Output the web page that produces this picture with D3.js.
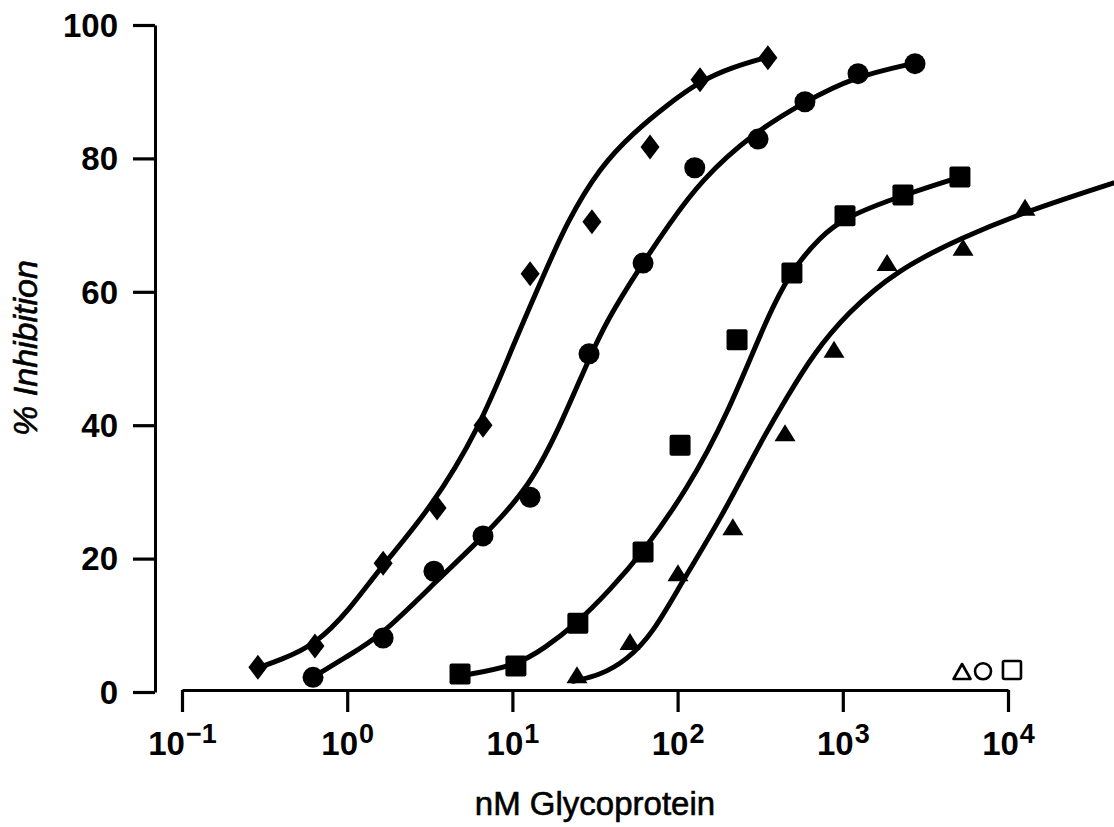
<!DOCTYPE html>
<html>
<head>
<meta charset="utf-8">
<script src="https://cdn.jsdelivr.net/npm/d3@7"></script>
<style>
  html, body { margin: 0; padding: 0; background: #fff; }
  svg { display: block; }
</style>
</head>
<body>
<svg id="chart" width="1114" height="827"></svg>
<script>
// ---------- DATA ----------
const xTicks = [0.1, 1, 10, 100, 1000, 10000];
const xTickExponents = ["\u22121", "0", "1", "2", "3", "4"];
const yTicks = [0, 20, 40, 60, 80, 100];

const xTitle = "nM Glycoprotein";
const yTitle = "% Inhibition";

// filled diamonds
const diamondX = [0.288, 0.638, 1.65, 3.50, 6.64, 12.8, 30.3, 68.1, 136.7, 352];
const diamondY = [3.7, 6.9, 19.3, 27.6, 40.0, 62.7, 70.5, 81.7, 91.8, 95.1];
// filled circles
const circleX = [0.621, 1.65, 3.35, 6.64, 12.8, 29.1, 61.8, 127, 307, 590, 1236, 2735];
const circleY = [2.2, 8.1, 18.1, 23.4, 29.2, 50.7, 64.3, 78.6, 82.9, 88.5, 92.7, 94.2];
// filled squares
const squareX = [4.82, 10.5, 24.9, 61.8, 103.5, 229, 492, 1031, 2312, 5117];
const squareY = [2.7, 3.9, 10.3, 21.0, 37.0, 52.8, 62.8, 71.4, 74.5, 77.2];
// filled triangles
const triangleX = [24.6, 51.5, 100.5, 216, 447, 885, 1854, 5346, 12680];
const triangleY = [2.5, 7.5, 17.8, 24.7, 38.8, 51.3, 64.3, 66.6, 72.6];

// fitted curves
const diamondCurveX = [0.288, 0.392, 0.638, 1.04, 1.58, 3.17, 6.37, 10.1, 15.1, 21.4, 33.9, 53.7, 86.3, 137, 216, 352];
const diamondCurveY = [3.6, 4.8, 7.0, 12.4, 18.6, 27.3, 39.7, 52.0, 61.9, 70.5, 78.7, 83.8, 88.0, 91.6, 93.7, 95.2];
const circleCurveX = [0.621, 0.97, 1.58, 3.65, 6.37, 12.8, 20.2, 28.3, 37.4, 59.2, 89.9, 137, 286, 590, 1153, 2735];
const circleCurveY = [2.2, 5.2, 8.2, 17.2, 22.8, 30.7, 40.8, 49.3, 55.8, 63.7, 70.3, 76.6, 83.8, 88.5, 92.2, 94.3];
const squareCurveX = [4.82, 10.5, 15.7, 24.6, 39.0, 61.8, 114, 200, 348, 492, 728, 1031, 2312, 5117];
const squareCurveY = [2.4, 3.9, 6.6, 10.3, 15.3, 21.0, 30.3, 41.5, 56.2, 63.3, 68.2, 71.2, 74.5, 77.2];
const triangleCurveX = [23.3, 33.9, 49.4, 71.0, 108, 181, 315, 459, 660, 1060, 2128, 5346, 12680, 43250];
const triangleCurveY = [1.6, 2.5, 4.8, 8.8, 16.8, 25.8, 37.3, 44.2, 50.6, 56.8, 63.3, 68.2, 72.0, 76.3];

// open symbols near the axis (controls)
const openSymbolKinds = ["triangle", "circle", "square"];
const openSymbolX = [5270, 7060, 10570];
const openSymbolY = [3.0, 3.1, 3.3];

// ---------- CHART ----------
const svg = d3.select("#chart");
svg.append("rect").attr("width", 1114).attr("height", 827).attr("fill", "#fff");

const x = d3.scaleLog().domain([0.1, 10000]).range([182, 1008]);
const y = d3.scaleLinear().domain([0, 100]).range([692, 25]);
const xAxisY = 690;

const FONT = "'Liberation Sans', Arial, Helvetica, sans-serif";

// Y axis
const yAxis = svg.append("g")
  .attr("transform", "translate(155,0)")
  .call(d3.axisLeft(y).tickValues(yTicks).tickSize(22).tickSizeOuter(0).tickPadding(15));
yAxis.select(".domain").attr("stroke", "#000").attr("stroke-width", 3);
yAxis.selectAll(".tick line").attr("stroke", "#000").attr("stroke-width", 3.2);
yAxis.selectAll(".tick text")
  .attr("font-family", FONT).attr("font-size", 33).attr("font-weight", "bold")
  .attr("fill", "#000").attr("dy", "0.34em");

// X axis
const xAxis = svg.append("g")
  .attr("transform", `translate(0,${xAxisY})`)
  .call(d3.axisBottom(x).tickValues(xTicks).tickSize(22).tickSizeOuter(0).tickFormat(() => ""));
xAxis.select(".domain").attr("stroke", "#000").attr("stroke-width", 3);
xAxis.selectAll(".tick line").attr("stroke", "#000").attr("stroke-width", 3.2);
xAxis.selectAll(".tick text").each(function(d, i) {
  const t = d3.select(this);
  t.text(null)
    .attr("y", 65).attr("dy", null)
    .attr("font-family", FONT).attr("font-size", 33).attr("font-weight", "bold")
    .attr("fill", "#000").attr("text-anchor", "middle");
  t.append("tspan").text("10");
  t.append("tspan").attr("font-size", 27).attr("dy", -12).attr("dx", 1).text(xTickExponents[i]);
});

// Titles
svg.append("text")
  .attr("x", 595).attr("y", 815)
  .attr("text-anchor", "middle")
  .attr("font-family", FONT).attr("font-size", 33)
  .attr("fill", "#000").attr("stroke", "#000").attr("stroke-width", 0.6)
  .text(xTitle);

svg.append("text")
  .attr("transform", "translate(37,348) rotate(-90)")
  .attr("text-anchor", "middle")
  .attr("font-family", FONT).attr("font-size", 34).attr("font-style", "italic")
  .attr("fill", "#000").attr("stroke", "#000").attr("stroke-width", 0.6)
  .text(yTitle);

// Curves (smooth spline through the traced points)
const line = d3.line()
  .x(d => x(d[0])).y(d => y(d[1]))
  .curve(d3.curveBasis);
const curves = [
  d3.zip(diamondCurveX, diamondCurveY),
  d3.zip(circleCurveX, circleCurveY),
  d3.zip(squareCurveX, squareCurveY),
  d3.zip(triangleCurveX, triangleCurveY)
];
svg.append("g").selectAll("path").data(curves).join("path")
  .attr("d", line)
  .attr("fill", "none").attr("stroke", "#000").attr("stroke-width", 5)
  .attr("stroke-linecap", "round").attr("stroke-linejoin", "round");

// Marker shapes
const diamondPath = "M0,-12.5 L9.5,0 L0,12.5 L-9.5,0 Z";
const trianglePath = "M0,-9 L10.5,8 L-10.5,8 Z";

const mk = svg.append("g");
mk.selectAll(".dia").data(d3.zip(diamondX, diamondY)).join("path")
  .attr("d", diamondPath)
  .attr("transform", d => `translate(${x(d[0])},${y(d[1])})`)
  .attr("fill", "#000");
mk.selectAll(".cir").data(d3.zip(circleX, circleY)).join("circle")
  .attr("cx", d => x(d[0])).attr("cy", d => y(d[1])).attr("r", 10.5)
  .attr("fill", "#000");
mk.selectAll(".sq").data(d3.zip(squareX, squareY)).join("rect")
  .attr("x", d => x(d[0]) - 10.5).attr("y", d => y(d[1]) - 10.5)
  .attr("width", 21).attr("height", 21).attr("rx", 2)
  .attr("fill", "#000");
mk.selectAll(".tri").data(d3.zip(triangleX, triangleY)).join("path")
  .attr("d", trianglePath)
  .attr("transform", d => `translate(${x(d[0])},${y(d[1])})`)
  .attr("fill", "#000");

// Open symbols
const open = svg.append("g").attr("fill", "#fff").attr("stroke", "#000").attr("stroke-width", 2.6);
openSymbolKinds.forEach((k, i) => {
  const cx = x(openSymbolX[i]), cy = y(openSymbolY[i]);
  if (k === "triangle") {
    open.append("path").attr("d", "M0,-8 L8.5,7 L-8.5,7 Z")
      .attr("transform", `translate(${cx},${cy})`).attr("stroke-linejoin", "round");
  } else if (k === "circle") {
    open.append("circle").attr("cx", cx).attr("cy", cy).attr("r", 8);
  } else {
    open.append("rect").attr("x", cx - 9).attr("y", cy - 9).attr("width", 18).attr("height", 18).attr("rx", 1.5);
  }
});
</script>
</body>
</html>
